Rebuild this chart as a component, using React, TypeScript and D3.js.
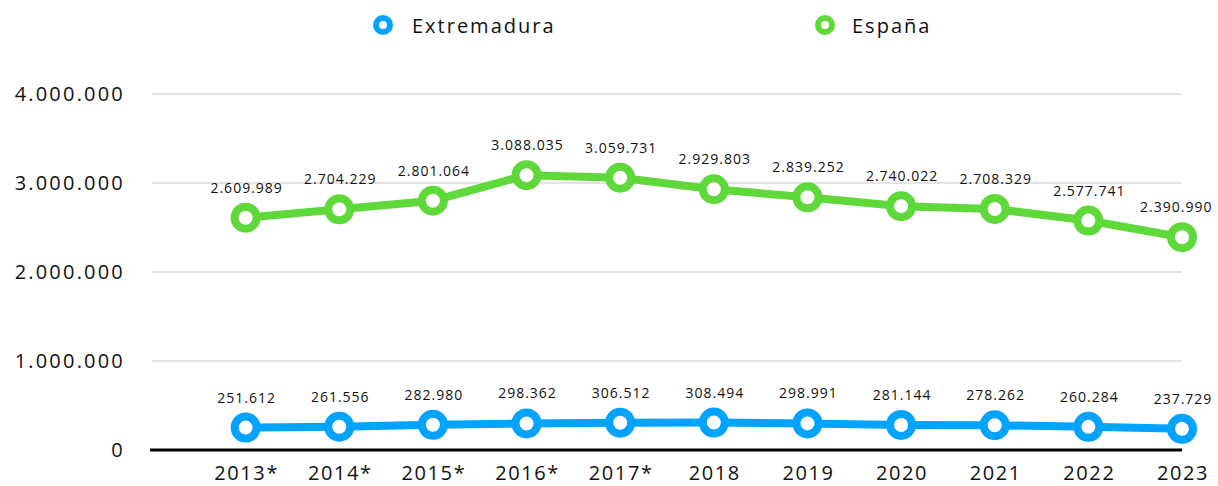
import React from "react";
import * as d3 from "d3";

const categories = ["2013*", "2014*", "2015*", "2016*", "2017*", "2018", "2019", "2020", "2021", "2022", "2023"];
const extremadura = [251612, 261556, 282980, 298362, 306512, 308494, 298991, 281144, 278262, 260284, 237729];
const espana = [2609989, 2704229, 2801064, 3088035, 3059731, 2929803, 2839252, 2740022, 2708329, 2577741, 2390990];
const yTicks = [0, 1000000, 2000000, 3000000, 4000000];
const seriesNames = ["Extremadura", "España"];

const W = 1218, H = 486;
const FONT = "'Open Sans', Lato, sans-serif";
const BLUE = "#00a3ff";
const GREEN = "#5fd83a";

const fmt = (v: number) => {
  const s = Math.round(v).toString();
  return s.replace(/\B(?=(\d{3})+(?!\d))/g, ".");
};

export default function App() {
  const x = d3.scalePoint<string>().domain(["", ...categories]).range([152, 1182]);
  const y = d3.scaleLinear().domain([0, 4000000]).range([450, 94]);
  const line = d3.line<number>().x((_, i) => x(categories[i])!).y(d => y(d));

  const series = [
    { name: seriesNames[0], data: extremadura, color: BLUE },
    { name: seriesNames[1], data: espana, color: GREEN },
  ];

  const labelX = (i: number, txt: string) => {
    const half = txt.length * 4.3;
    return Math.min(x(categories[i])! + 1, W - 3 - half);
  };

  return (
    <svg width={W} height={H} style={{ position: "absolute", left: 0, top: 0 }} fontFamily={FONT}>
      {yTicks.filter(t => t > 0).map(t => (
        <line key={t} x1={152} x2={1182} y1={y(t)} y2={y(t)} stroke="#c8c8c8" strokeWidth={1} />
      ))}
      <line x1={150} x2={1182} y1={y(0)} y2={y(0)} stroke="#000" strokeWidth={3} />
      {yTicks.map(t => (
        <text key={t} x={125} y={y(t)} dy="0.35em" textAnchor="end" fontSize={20} letterSpacing={2.2} fill="#111">{fmt(t)}</text>
      ))}
      {categories.map(c => (
        <text key={c} x={x(c)! + 1} y={473} dy="0.35em" textAnchor="middle" fontSize={20} letterSpacing={1.6} fill="#111">{c}</text>
      ))}
      {series.map(s => (
        <g key={s.name}>
          <path d={line(s.data)!} fill="none" stroke={s.color} strokeWidth={8} />
          {s.data.map((v, i) => (
            <circle key={i} cx={x(categories[i])} cy={y(v)} r={11} fill="#fff" stroke={s.color} strokeWidth={8} />
          ))}
          {s.data.map((v, i) => (
            <text key={"t" + i} x={labelX(i, fmt(v))} y={y(v) - 25} textAnchor="middle" fontSize={14} letterSpacing={1} fill="#111">{fmt(v)}</text>
          ))}
        </g>
      ))}
      <g>
        <circle cx={383} cy={25} r={7} fill="#fff" stroke={BLUE} strokeWidth={6} />
        <text x={412} y={26} dy="0.35em" fontSize={20} letterSpacing={2} fill="#111">{seriesNames[0]}</text>
        <circle cx={825} cy={25} r={7} fill="#fff" stroke={GREEN} strokeWidth={6} />
        <text x={852} y={26} dy="0.35em" fontSize={20} letterSpacing={2} fill="#111">{seriesNames[1]}</text>
      </g>
    </svg>
  );
}
